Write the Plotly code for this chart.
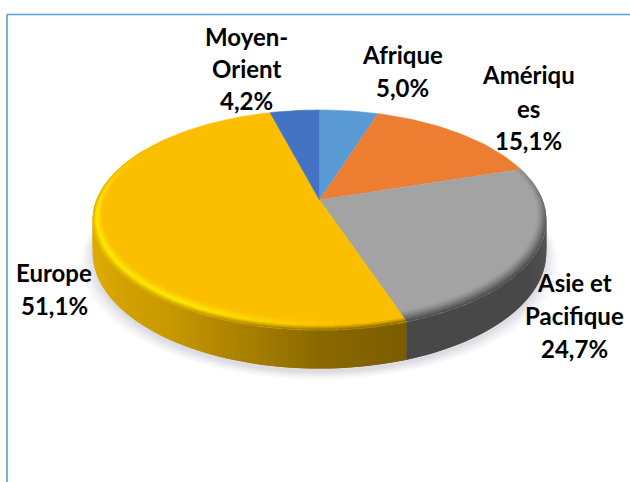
import math
import plotly.graph_objects as go

regions = ["Afrique", "Amériques", "Asie et Pacifique", "Europe", "Moyen-Orient"]
shares = [5.0, 15.1, 24.7, 51.1, 4.2]
face_colors = ["#5b9bd5", "#ed7d31", "#a3a3a3", "#fcbf00", "#4472c4"]

label_lines = [["Afrique", "5,0%"], ["Amériqu", "es", "15,1%"], ["Asie et", "Pacifique", "24,7%"],
               ["Europe", "51,1%"], ["Moyen-", "Orient", "4,2%"]]
label_x = [402, 528, 574, 54, 246]
label_y = [[54, 87], [74, 108, 140], [282, 315, 348], [272, 305], [36, 68, 100]]

CX, CY, R, A, K, DEPTH = 319.5, 200, 223, 106.4, 0.182, 31.5


def project(r, deg, drop=0.0):
    a = math.radians(deg)
    u, v = r * math.sin(a), -r * math.cos(a)
    s = 1 / (1 - K * v)
    return CX + R * u * s, CY + A * v * s + drop * s


def hexrgb(c):
    return tuple(int(c[i:i + 2], 16) for i in (1, 3, 5))


def mix(c1, c2, t):
    t = max(0, min(1, t))
    a, b = hexrgb(c1), hexrgb(c2)
    return "#%02x%02x%02x" % tuple(round(a[i] + (b[i] - a[i]) * t) for i in range(3))


def ramp(stops, x):
    if x <= stops[0][0]:
        return stops[0][1]
    for (x0, c0), (x1, c1) in zip(stops, stops[1:]):
        if x <= x1:
            return mix(c0, c1, (x - x0) / (x1 - x0))
    return stops[-1][1]


def poly(xs, ys, color, width=0.6):
    return go.Scatter(x=xs, y=ys, mode="lines", fill="toself", fillcolor=color,
                      line=dict(color=color, width=width), hoverinfo="skip", showlegend=False)


def frange(a, b, n):
    return [a + (b - a) * i / n for i in range(n + 1)]


fig = go.Figure()

# soft ground shadow
steps = 10
for i in range(steps):
    grow = 12 * (1 - i / (steps - 1))
    col = mix("#fcfcfd", "#dcdce2", (i / (steps - 1)) ** 1.3)
    pts = [project(1, d, DEPTH + 3) for d in frange(70, 290, 90)]
    xs = [CX + (p[0] - CX) * (1 + grow / 235) for p in pts]
    ys = [p[1] + grow * 0.6 for p in pts]
    fig.add_trace(poly(xs, ys, col))

# slice boundaries in degrees, clockwise from the far point
edges = [0.0]
for s in shares:
    edges.append(edges[-1] + s / sum(shares) * 360)

WALL = {2: [(60, "#6e6e6e"), (100, "#565656"), (125, "#484848"), (165, "#484848")],
        3: [(160, "#7a5c00"), (180, "#8c6a00"), (195, "#a88000"), (215, "#c99a00"),
            (245, "#dcaa00"), (300, "#e2b000")]}

# side wall: each segment runs under the next one so no seams show
for idx in (3, 2):
    a0, b0 = max(edges[idx], 60), min(edges[idx + 1], 300)
    n = int((b0 - a0) / 1.5) + 1
    ds = frange(a0, b0, n)
    step = ds[1] - ds[0]
    if idx == 3:
        pairs = [(d1, d0 - step if d0 > a0 else d0) for d0, d1 in reversed(list(zip(ds, ds[1:])))]
    else:
        pairs = [(d0, min(d1 + step, b0)) for d0, d1 in zip(ds, ds[1:])]
    for d0, d1 in pairs:
        p = [project(1, d0), project(1, d1), project(1, d1, DEPTH), project(1, d0, DEPTH)]
        fig.add_trace(poly([q[0] for q in p], [q[1] for q in p],
                           ramp(WALL[idx], (d0 + d1) / 2), width=0))

# top faces
for i, col in enumerate(face_colors):
    ds = frange(edges[i], edges[i + 1], max(4, int(shares[i] * 2)))
    pts = [(CX, CY)] + [project(1, d) for d in ds]
    fig.add_trace(poly([q[0] for q in pts], [q[1] for q in pts], col))


def band_width(d):
    return 0.035 + 0.04 * max(0, -math.cos(math.radians(d)))


def bevel_color(idx, d, t):
    base = face_colors[idx]
    wall = ramp(WALL[idx], d)
    if idx == 2:
        amt = max(0.0, min(1.0, (d - 72) / 30))
        return mix(base, mix("#8a8a8a", wall, amt), t ** 1.3)
    glow = max(0.0, min(1.0, (d - 175) / 35)) * max(0.0, min(1.0, (300 - d) / 35))
    high = mix(base, "#ffe800", glow)
    if t < 0.55:
        return mix(base, high, t / 0.55)
    return mix(high, mix(base, wall, 0.5 + 0.5 * min(1.0, (300 - d) / 35)), ((t - 0.55) / 0.45) ** 1.2)


# rounded rim
for idx in (2, 3):
    lo, hi = edges[idx], edges[idx + 1]
    hi = min(hi, 310) if idx == 3 else hi
    n = int((hi - lo) / 2) + 1
    ds = frange(lo, hi, n)
    step = ds[1] - ds[0]
    for d0, d1 in zip(ds, ds[1:]):
        dm = (d0 + d1) / 2
        e1 = min(d1 + step * 0.5, hi)
        for b in range(8):
            t0, t1 = b / 8, (b + 1.4) / 8
            t1 = min(t1, 1)
            w0, w1 = band_width(d0), band_width(e1)
            p = [project(1 - w0 * (1 - t0), d0), project(1 - w1 * (1 - t0), e1),
                 project(1 - w1 * (1 - t1), e1), project(1 - w0 * (1 - t1), d0)]
            fig.add_trace(poly([q[0] for q in p], [q[1] for q in p],
                               bevel_color(idx, dm, (b + 0.5) / 8), width=0))

annotations = []
for lines, x, ys in zip(label_lines, label_x, label_y):
    for line, y in zip(lines, ys):
        annotations.append(dict(x=x, y=y, text=line, showarrow=False, xanchor="center", yanchor="middle",
                                font=dict(family="Lato", size=24, color="#000000", weight=700)))

frame = dict(color="#5b9bd5", width=1.6)
fig.update_layout(
    width=630, height=482, margin=dict(l=0, r=0, t=0, b=0),
    paper_bgcolor="#ffffff", plot_bgcolor="#ffffff", showlegend=False,
    xaxis=dict(range=[0, 630], visible=False, fixedrange=True),
    yaxis=dict(range=[482, 0], visible=False, fixedrange=True),
    annotations=annotations,
    shapes=[dict(type="line", x0=7, x1=630, y0=14.5, y1=14.5, line=frame),
            dict(type="line", x0=7, x1=7, y0=14.5, y1=482, line=frame)],
)
fig.write_html("out.html", config={"displayModeBar": False},
               post_script="document.body.style.margin='0';document.body.style.overflow='hidden';")
